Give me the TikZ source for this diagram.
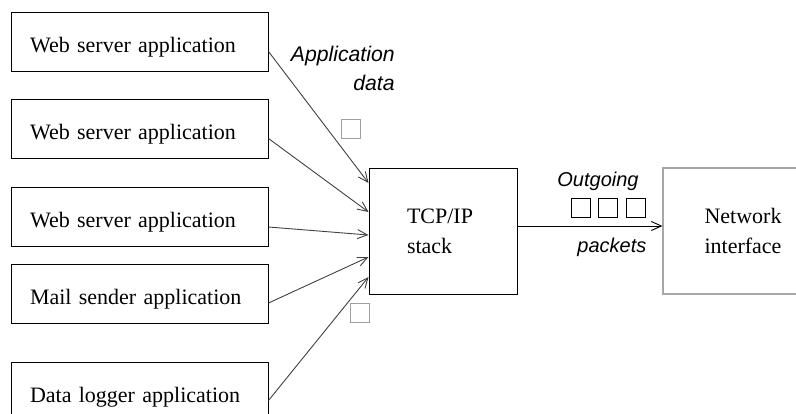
\documentclass[tikz,border=0pt]{standalone}
\usepackage{fontspec}
\setmainfont{Liberation Serif}
\newfontfamily\lblfont{Liberation Sans}
\usetikzlibrary{arrows.meta}
\newcommand\pkt[3]{\node(#1)[pktbox,#3] at (#2){};}

\begin{document}
\begin{tikzpicture}[x=0.5pt,y=-0.5pt,
    appbox/.style={draw,line width=0.5pt,text width=109.5pt,inner xsep=9.5pt,
        text height=10.5pt,text depth=0pt,
        minimum height=29.5pt,align=left,font=\fontsize{11}{14}\selectfont},
    stackbox/.style={draw,line width=0.5pt,text width=36pt,inner xsep=19pt,
        minimum height=63pt,align=left,font=\fontsize{11}{15}\selectfont},
    nicbox/.style={draw=gray!70,line width=0.6pt,minimum width=80pt,
        minimum height=63pt,align=center,font=\fontsize{11}{15}\selectfont},
    pktbox/.style={draw,line width=0.5pt,minimum size=9.5pt,inner sep=0pt},
    lbl/.style={inner sep=0pt,font=\lblfont\itshape\fontsize{10}{14}\selectfont},
    feed/.style={draw=black!75,line width=0.45pt,-{Straight Barb[length=5pt,width=4.5pt]}}]
    \useasboundingbox (0,0) rectangle (796,413);
    % applications
    \node(web1)[appbox] at (139.5,41.5) {Web server application};
    \node(web2)[appbox] at (139.5,128.5) {Web server application};
    \node(web3)[appbox] at (139.5,217) {Web server application};
    \node(mail)[appbox] at (139.5,294) {Mail sender application};
    \node(logger)[appbox] at (139.5,391.5) {Data logger application};
    % stack and interface
    \node(tcp)[stackbox] at (443,231) {TCP/IP\\stack};
    \node(nic)[nicbox] at (743,231) {Network\\interface};
    % application data
    \node(lblapp)[lbl,font=\lblfont\itshape\fontsize{10.6}{14.5}\selectfont,
        align=right,anchor=north east] at (395,46) {Application\\data};
    \pkt{pa}{350.5,129}{draw=gray!75}
    \pkt{pb}{360,313}{draw=gray!75}
    \draw[feed] ([yshift=-5pt]web1.east) -- ([yshift=24pt]tcp.west);
    \draw[feed] ([yshift=-5pt]web2.east) -- ([yshift=9.5pt]tcp.west);
    \draw[feed] ([yshift=-5pt]web3.east) -- ([yshift=-2pt]tcp.west);
    \draw[feed] ([yshift=-4.5pt]mail.east) -- ([yshift=-13pt]tcp.west);
    \draw[feed] ([yshift=-4.5pt]logger.east) -- ([yshift=-23pt]tcp.west);
    % outgoing packets
    \node(lblout)[lbl,anchor=base west] at (557,186) {Outgoing};
    \node(lblpkt)[lbl,anchor=base west] at (577,252) {packets};
    \pkt{p1}{581,207.5}{}
    \pkt{p2}{607.5,207.5}{}
    \pkt{p3}{635.5,207.5}{}
    \draw[feed,draw=black] ([yshift=2.5pt]tcp.east) -- ([yshift=2.5pt]nic.west);
\end{tikzpicture}
\end{document}
